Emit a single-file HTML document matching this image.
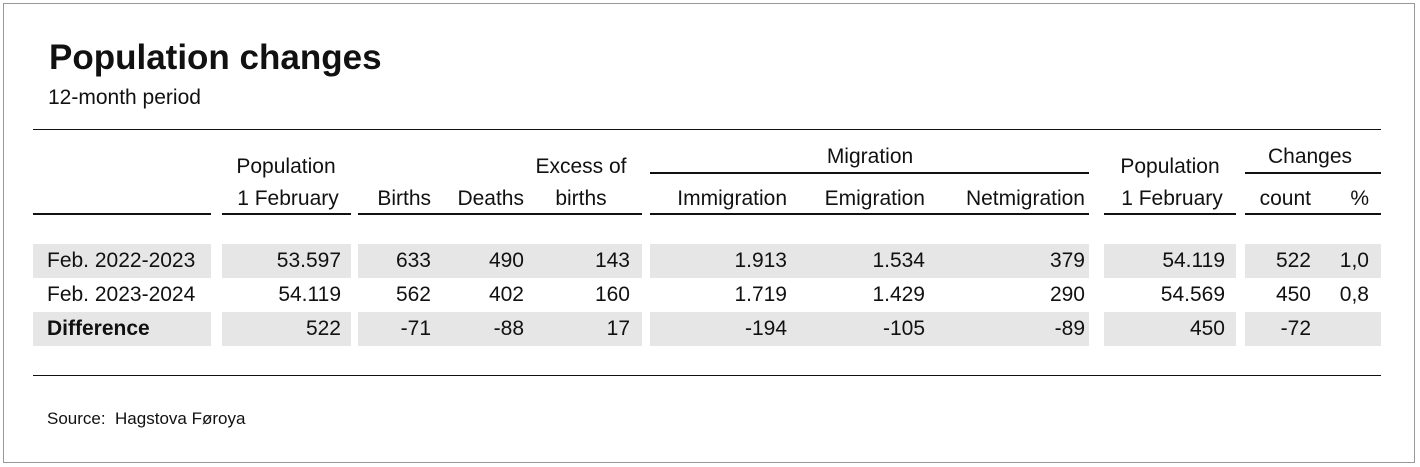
<!DOCTYPE html>
<html><head><meta charset="utf-8"><style>
body{margin:0;width:1420px;height:467px;background:#fff;font-family:"Liberation Sans",sans-serif;color:#111;position:relative;overflow:hidden}
.f{position:absolute;left:3px;top:3px;width:1410px;height:458px;border:1px solid #999}
.a{position:absolute;white-space:nowrap}
.r{position:absolute;width:200px;text-align:right;font-size:21px;line-height:34px;white-space:nowrap}
.c{position:absolute;width:200px;text-align:center;font-size:21px;line-height:30px;white-space:nowrap}
.g{position:absolute;background:#e6e6e6;height:34px}
.l{position:absolute;background:#111}
</style></head><body>
<div class="f"></div>
<div class="a" style="left:49px;top:38px;font-size:35px;font-weight:bold">Population changes</div>
<div class="a" style="left:48px;top:86px;font-size:21px">12-month period</div>
<div class="l" style="left:33px;top:129px;width:1348px;height:1px"></div>
<div class="l" style="left:650px;top:172px;width:439px;height:2px"></div>
<div class="l" style="left:1245px;top:172px;width:136px;height:2px"></div>
<div class="l" style="left:33px;top:213px;width:178px;height:2px"></div>
<div class="l" style="left:222px;top:213px;width:129px;height:2px"></div>
<div class="l" style="left:358px;top:213px;width:284px;height:2px"></div>
<div class="l" style="left:650px;top:213px;width:439px;height:2px"></div>
<div class="l" style="left:1104px;top:213px;width:132px;height:2px"></div>
<div class="l" style="left:1245px;top:213px;width:136px;height:2px"></div>
<div class="c" style="left:186px;top:152px">Population</div>
<div class="c" style="left:188px;top:184px">1 February</div>
<div class="r" style="left:231px;top:182px">Births</div>
<div class="r" style="left:324px;top:182px">Deaths</div>
<div class="c" style="left:481px;top:152px">Excess of</div>
<div class="c" style="left:481px;top:184px">births</div>
<div class="c" style="left:770px;top:142px">Migration</div>
<div class="r" style="left:587px;top:182px">Immigration</div>
<div class="r" style="left:725px;top:182px">Emigration</div>
<div class="r" style="left:885px;top:182px">Netmigration</div>
<div class="c" style="left:1070px;top:152px">Population</div>
<div class="c" style="left:1072px;top:184px">1 February</div>
<div class="c" style="left:1210px;top:142px">Changes</div>
<div class="r" style="left:1111px;top:182px">count</div>
<div class="r" style="left:1169px;top:182px">%</div>

<div class="g" style="left:33px;top:244px;width:178px"></div>
<div class="g" style="left:222px;top:244px;width:129px"></div>
<div class="g" style="left:358px;top:244px;width:284px"></div>
<div class="g" style="left:650px;top:244px;width:439px"></div>
<div class="g" style="left:1104px;top:244px;width:132px"></div>
<div class="g" style="left:1245px;top:244px;width:136px"></div>
<div class="g" style="left:33px;top:312px;width:178px"></div>
<div class="g" style="left:222px;top:312px;width:129px"></div>
<div class="g" style="left:358px;top:312px;width:284px"></div>
<div class="g" style="left:650px;top:312px;width:439px"></div>
<div class="g" style="left:1104px;top:312px;width:132px"></div>
<div class="g" style="left:1245px;top:312px;width:136px"></div>

<div class="a" style="left:47px;top:244px;font-size:21px;line-height:34px">Feb. 2022-2023</div>
<div class="a" style="left:47px;top:278px;font-size:21px;line-height:34px">Feb. 2023-2024</div>
<div class="a" style="left:47px;top:312px;font-size:21px;line-height:34px;font-weight:bold">Difference</div>

<div class="r" style="left:141px;top:244px">53.597</div>
<div class="r" style="left:231px;top:244px">633</div>
<div class="r" style="left:324px;top:244px">490</div>
<div class="r" style="left:430px;top:244px">143</div>
<div class="r" style="left:587px;top:244px">1.913</div>
<div class="r" style="left:725px;top:244px">1.534</div>
<div class="r" style="left:885px;top:244px">379</div>
<div class="r" style="left:1025px;top:244px">54.119</div>
<div class="r" style="left:1111px;top:244px">522</div>
<div class="r" style="left:1169px;top:244px">1,0</div>

<div class="r" style="left:141px;top:278px">54.119</div>
<div class="r" style="left:231px;top:278px">562</div>
<div class="r" style="left:324px;top:278px">402</div>
<div class="r" style="left:430px;top:278px">160</div>
<div class="r" style="left:587px;top:278px">1.719</div>
<div class="r" style="left:725px;top:278px">1.429</div>
<div class="r" style="left:885px;top:278px">290</div>
<div class="r" style="left:1025px;top:278px">54.569</div>
<div class="r" style="left:1111px;top:278px">450</div>
<div class="r" style="left:1169px;top:278px">0,8</div>

<div class="r" style="left:141px;top:312px">522</div>
<div class="r" style="left:231px;top:312px">-71</div>
<div class="r" style="left:324px;top:312px">-88</div>
<div class="r" style="left:430px;top:312px">17</div>
<div class="r" style="left:587px;top:312px">-194</div>
<div class="r" style="left:725px;top:312px">-105</div>
<div class="r" style="left:885px;top:312px">-89</div>
<div class="r" style="left:1025px;top:312px">450</div>
<div class="r" style="left:1111px;top:312px">-72</div>

<div class="l" style="left:33px;top:375px;width:1348px;height:1px"></div>
<div class="a" style="left:47px;top:409px;font-size:17px">Source:&nbsp; Hagstova Føroya</div>
</body></html>
